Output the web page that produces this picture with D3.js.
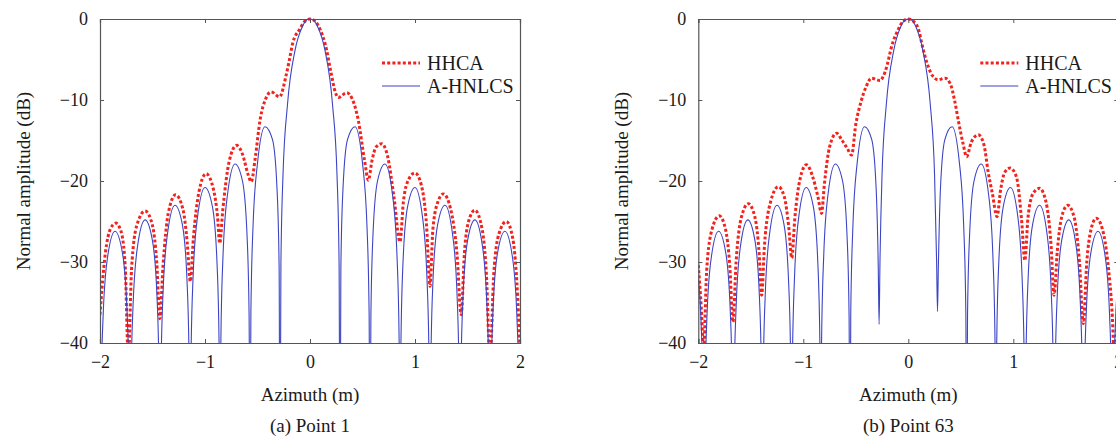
<!DOCTYPE html>
<html><head><meta charset="utf-8">
<script src="https://cdn.jsdelivr.net/npm/d3@7/dist/d3.min.js"></script>
<style>
body{margin:0;background:#fff}
svg{display:block}
text{font-family:"Liberation Serif","Times New Roman",serif;fill:#1a1a1a}
</style>
</head><body>
<svg id="c" width="1116" height="437"></svg>
<script>
// ---------- data ----------
const xTicks = [-2, -1, 0, 1, 2];
const yTicks = [0, -10, -20, -30, -40];
const seriesNames = ["HHCA", "A-HNLCS"];
const captions = ["(a) Point 1", "(b) Point 63"];

// Panel (a): A-HNLCS (blue)
const blueAX = [-2.0,-1.991,-1.971,-1.929,-1.857,-1.786,-1.743,-1.723,-1.714,-1.706,-1.686,-1.643,-1.571,-1.5,-1.457,-1.437,-1.429,-1.42,-1.4,-1.357,-1.286,-1.214,-1.171,-1.151,-1.143,-1.134,-1.114,-1.071,-1.0,-0.929,-0.886,-0.866,-0.857,-0.849,-0.829,-0.786,-0.714,-0.643,-0.6,-0.58,-0.571,-0.563,-0.543,-0.5,-0.429,-0.357,-0.314,-0.294,-0.286,-0.277,-0.257,-0.214,-0.143,-0.071,-0.029,
0,0.029,0.071,0.143,0.214,0.257,0.277,0.286,0.294,0.314,0.357,0.429,0.5,0.543,0.563,0.571,0.58,0.6,0.643,0.714,0.786,0.829,0.849,0.857,0.866,0.886,0.929,1.0,1.071,1.114,1.134,1.143,1.151,1.171,1.214,1.286,1.357,1.4,1.42,1.429,1.437,1.457,1.5,1.571,1.643,1.686,1.706,1.714,1.723,1.743,1.786,1.857,1.929,1.971,1.991,2.0];
const blueAY = [-60,-47.3,-36.9,-29.5,-26.2,-28.9,-35.9,-46.1,-60,-46.0,-35.6,-28.1,-24.8,-27.4,-34.3,-44.5,-60,-44.4,-33.9,-26.5,-23.0,-25.5,-32.4,-42.6,-60,-42.4,-32.0,-24.4,-20.8,-23.2,-30.0,-40.1,-60,-39.9,-29.4,-21.7,-17.9,-20.0,-26.6,-36.6,-60,-36.3,-25.7,-17.8,-13.3,-14.9,-21.0,-30.7,-60,-30.2,-19.2,-10.5,-3.9,-0.9,-0.1,
0,-0.1,-0.9,-3.9,-10.5,-19.2,-30.2,-60,-30.7,-21.0,-14.9,-13.3,-17.8,-25.7,-36.3,-60,-36.6,-26.6,-20.0,-17.9,-21.7,-29.4,-39.9,-60,-40.1,-30.0,-23.2,-20.8,-24.4,-32.0,-42.4,-60,-42.6,-32.4,-25.5,-23.0,-26.5,-33.9,-44.4,-60,-44.5,-34.3,-27.4,-24.8,-28.1,-35.6,-46.0,-60,-46.1,-35.9,-28.9,-26.2,-29.5,-36.9,-47.3,-60];

// Panel (a): HHCA (red)
const redAX = [-2.0,-1.95,-1.9,-1.85,-1.8,-1.76,-1.73,-1.7,-1.65,-1.57,-1.5,-1.46,-1.43,-1.4,-1.35,-1.28,-1.21,-1.17,-1.14,-1.11,-1.06,-0.99,-0.92,-0.88,-0.86,-0.83,-0.77,-0.7,-0.64,-0.59,-0.56,-0.52,-0.476,-0.42,-0.37,-0.29,-0.23,-0.2,-0.165,-0.1,-0.05,0,0.05,0.1,0.143,0.2,0.24,0.27,0.35,0.4,0.46,0.52,0.556,0.59,0.63,0.683,0.74,0.8,0.857,0.89,0.94,1.0,1.06,1.11,1.143,1.17,1.22,1.27,1.34,1.4,1.44,1.47,1.51,1.57,1.64,1.68,1.714,1.75,1.8,1.87,1.93,1.97,2.0];
const redAY = [-36.5,-29.0,-25.9,-25.2,-26.2,-30.5,-42,-31,-25.5,-23.7,-25.5,-30,-37,-30.5,-24,-21.7,-23.5,-27.5,-32.4,-27,-21.5,-19.1,-21,-24.5,-27.7,-23.5,-17.6,-15.6,-16.8,-19.2,-20.1,-17.0,-12.5,-9.8,-9.0,-9.6,-7.1,-5.3,-3.0,-1.3,-0.3,0,-0.3,-1.4,-3.0,-6.6,-9.0,-9.7,-9.1,-9.8,-12.5,-17.5,-19.9,-17.5,-15.8,-15.4,-17,-22,-27.5,-22.5,-19.8,-19.0,-20.5,-25.5,-33,-26,-22.5,-21.6,-23.5,-29,-36.5,-29,-25,-23.6,-26,-31.5,-42,-31.5,-26.5,-25.0,-27,-32.5,-41];

// Panel (b): A-HNLCS (blue)
const blueBX = [-2.0,-1.974,-1.954,-1.946,-1.938,-1.918,-1.877,-1.807,-1.738,-1.696,-1.676,-1.668,-1.66,-1.64,-1.599,-1.529,-1.46,-1.418,-1.398,-1.39,-1.382,-1.362,-1.321,-1.251,-1.182,-1.14,-1.12,-1.112,-1.104,-1.084,-1.043,-0.973,-0.904,-0.862,-0.842,-0.834,-0.826,-0.806,-0.765,-0.695,-0.626,-0.584,-0.564,-0.556,-0.548,-0.528,-0.487,-0.417,-0.348,-0.306,-0.286,-0.278,-0.27,-0.25,-0.209,-0.139,-0.07,-0.028,
0,0.028,0.07,0.139,0.209,0.25,0.27,0.278,0.286,0.306,0.348,0.417,0.487,0.528,0.548,0.556,0.564,0.584,0.626,0.695,0.765,0.806,0.826,0.834,0.842,0.862,0.904,0.973,1.043,1.084,1.104,1.112,1.12,1.14,1.182,1.251,1.321,1.362,1.382,1.39,1.398,1.418,1.46,1.529,1.599,1.64,1.66,1.668,1.676,1.696,1.738,1.807,1.877,1.918,1.938,1.946,1.954,1.974,2.0];
const blueBY = [-32.1,-37.2,-47.4,-60,-47.3,-36.9,-29.5,-26.2,-28.9,-35.9,-46.1,-60,-46.0,-35.6,-28.1,-24.8,-27.4,-34.3,-44.5,-60,-44.4,-33.9,-26.5,-23.0,-25.5,-32.4,-42.6,-60,-42.4,-32.0,-24.4,-20.8,-23.2,-30.0,-40.1,-60,-39.9,-29.4,-21.7,-17.9,-20.0,-26.6,-36.6,-60,-36.3,-25.7,-17.8,-13.3,-14.9,-21.0,-30.7,-37.7,-30.2,-19.2,-10.5,-3.9,-0.9,-0.1,
0,-0.1,-0.9,-3.9,-10.5,-19.2,-30.2,-36.1,-30.7,-21.0,-14.9,-13.3,-17.8,-25.7,-36.3,-60,-36.6,-26.6,-20.0,-17.9,-21.7,-29.4,-39.9,-60,-40.1,-30.0,-23.2,-20.8,-24.4,-32.0,-42.4,-60,-42.6,-32.4,-25.5,-23.0,-26.5,-33.9,-44.4,-60,-44.5,-34.3,-27.4,-24.8,-28.1,-35.6,-46.0,-60,-46.1,-35.9,-28.9,-26.2,-29.5,-36.9,-47.3,-60,-47.4,-37.2,-32.1];

// Panel (b): HHCA (red)
const redBX = [-2.0,-1.97,-1.95,-1.92,-1.87,-1.8,-1.74,-1.7,-1.67,-1.64,-1.59,-1.524,-1.46,-1.42,-1.397,-1.37,-1.31,-1.238,-1.18,-1.14,-1.11,-1.08,-1.03,-0.97,-0.91,-0.86,-0.826,-0.8,-0.75,-0.683,-0.63,-0.58,-0.54,-0.5,-0.45,-0.4,-0.35,-0.27,-0.22,-0.15,-0.1,-0.05,0,0.05,0.1,0.128,0.18,0.23,0.286,0.35,0.4,0.44,0.476,0.52,0.556,0.6,0.667,0.72,0.762,0.8,0.845,0.88,0.92,0.97,1.03,1.08,1.11,1.14,1.19,1.25,1.31,1.36,1.388,1.42,1.46,1.518,1.58,1.63,1.667,1.7,1.74,1.79,1.85,1.9,1.94,1.965,2.0];
const redBY = [-30.4,-36,-41,-31,-26,-24.3,-26,-30.5,-37.4,-30,-24.5,-22.8,-24.5,-29,-34.1,-28,-22.5,-20.7,-22,-25.5,-29.5,-24.5,-19.7,-18.0,-19.5,-22,-24.0,-20.5,-15.8,-14.1,-15.0,-16.0,-16.8,-13.0,-10.2,-8.3,-7.3,-7.6,-6.5,-3.0,-1.4,-0.3,0,-0.3,-1.4,-3.0,-5.5,-7.0,-7.5,-7.3,-8.0,-10.0,-12.5,-15.3,-17.0,-15.2,-14.3,-15.5,-19.0,-21.5,-24.4,-21,-18.9,-18.4,-19.5,-25,-29.8,-24.5,-21.5,-20.9,-22.5,-28,-34.1,-28.5,-24.5,-23.0,-24.5,-30,-37.6,-30,-26,-24.6,-26,-30,-36,-42,-32];

// ---------- drawing ----------
const RED = "#f2231d", BLUE = "#3c44c4", AXIS = "#555";
const svg = d3.select("#c");
const plotTop = 19, plotBottom = 343;

const panels = [
  {x0: 100, x1: 520, redX: redAX, redY: redAY, blueX: blueAX, blueY: blueAY, caption: captions[0]},
  {x0: 698.3, x1: 1118.3, redX: redBX, redY: redBY, blueX: blueBX, blueY: blueBY, caption: captions[1]}
];

const defs = svg.append("defs");

panels.forEach((p, i) => {
  const x = d3.scaleLinear().domain([-2, 2]).range([p.x0, p.x1]);
  const y = d3.scaleLinear().domain([-40, 0]).range([plotBottom, plotTop]);
  const g = svg.append("g");

  defs.append("clipPath").attr("id", "clip" + i)
    .append("rect").attr("x", p.x0).attr("y", plotTop - 2).attr("width", p.x1 - p.x0).attr("height", plotBottom - plotTop + 2);

  const line = d3.line().x(d => x(d[0])).y(d => y(d[1])).curve(d3.curveMonotoneX);
  const red = p.redX.map((v, k) => [v, p.redY[k]]);
  const blue = p.blueX.map((v, k) => [v, p.blueY[k]]);

  const plot = g.append("g").attr("clip-path", `url(#clip${i})`);
  plot.append("path").datum(red).attr("d", line)
    .attr("fill", "none").attr("stroke", RED).attr("stroke-width", 3).attr("stroke-dasharray", "3 2.2");
  plot.append("path").datum(blue).attr("d", line)
    .attr("fill", "none").attr("stroke", BLUE).attr("stroke-width", 1.1);

  const fmt = d3.format("d");
  const ax = g.append("g").attr("transform", `translate(0,${plotBottom})`)
    .call(d3.axisBottom(x).tickValues(xTicks).tickSize(-4).tickPadding(12).tickFormat(fmt));
  const axT = g.append("g").attr("transform", `translate(0,${plotTop})`)
    .call(d3.axisTop(x).tickValues(xTicks).tickSize(-4).tickFormat(""));
  const ay = g.append("g").attr("transform", `translate(${p.x0},0)`)
    .call(d3.axisLeft(y).tickValues(yTicks).tickSize(-4).tickPadding(12).tickFormat(fmt));
  const ayR = g.append("g").attr("transform", `translate(${p.x1},0)`)
    .call(d3.axisRight(y).tickValues(yTicks).tickSize(-4).tickFormat(""));
  [ax, axT, ay, ayR].forEach(a => {
    a.selectAll("path.domain").attr("stroke", AXIS).attr("stroke-width", 1.2);
    a.selectAll(".tick line").attr("stroke", AXIS).attr("stroke-width", 1);
    a.selectAll("text").style("font-family", '"Liberation Serif", serif').style("font-size", "18px").attr("fill", "#1a1a1a");
  });

  const cx = (p.x0 + p.x1) / 2;
  g.append("text").attr("x", cx).attr("y", 401).attr("text-anchor", "middle")
    .style("font-size", "19px").text("Azimuth (m)");
  g.append("text").attr("transform", `translate(${p.x0 - 70},${(plotTop + plotBottom) / 2}) rotate(-90)`)
    .attr("text-anchor", "middle").style("font-size", "19px").text("Normal amplitude (dB)");
  g.append("text").attr("x", cx).attr("y", 432).attr("text-anchor", "middle")
    .style("font-size", "19px").text(p.caption);

  const lx = p.x0 + 282;
  const lg = g.append("g");
  lg.append("line").attr("x1", lx).attr("x2", lx + 38).attr("y1", 63).attr("y2", 63)
    .attr("stroke", RED).attr("stroke-width", 3).attr("stroke-dasharray", "3 2.2");
  lg.append("text").attr("x", lx + 45).attr("y", 70).style("font-size", "20px").text(seriesNames[0]);
  lg.append("line").attr("x1", lx).attr("x2", lx + 38).attr("y1", 86).attr("y2", 86)
    .attr("stroke", BLUE).attr("stroke-width", 1.1);
  lg.append("text").attr("x", lx + 45).attr("y", 93).style("font-size", "20px").text(seriesNames[1]);
});
</script>
</body></html>
